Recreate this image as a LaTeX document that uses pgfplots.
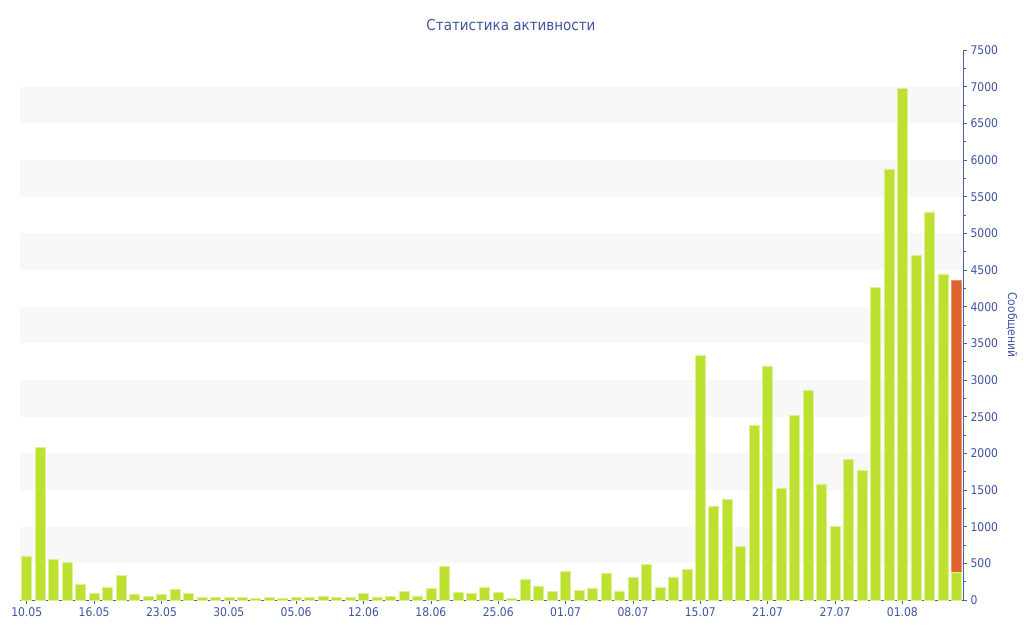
\documentclass[border=0pt]{standalone}
\usepackage{fontspec}
\setmainfont{DejaVu Sans Condensed}
\usepackage{pgfplots}
\usepackage{pgfplotstable}
\pgfplotsset{compat=1.18}
\definecolor{txtblue}{RGB}{64,84,160}
\definecolor{axblue}{RGB}{80,95,160}
\definecolor{bargreen}{RGB}{189,225,49}
\definecolor{baredge}{RGB}{222,240,150}
\definecolor{barorange}{RGB}{224,99,47}
\definecolor{band}{RGB}{248,248,248}
\pgfplotstableread{
x y
0 600
1 2077
2 555
3 509
4 218
5 86
6 177
7 332
8 82
9 45
10 77
11 146
12 91
13 36
14 36
15 36
16 40
17 27
18 31
19 27
20 31
21 40
22 55
23 40
24 36
25 86
26 41
27 45
28 114
29 55
30 159
31 459
32 109
33 95
34 177
35 105
36 27
37 282
38 191
39 114
40 395
41 136
42 164
43 364
44 123
45 305
46 482
47 177
48 314
49 420
50 3337
51 1282
52 1368
53 736
54 2378
55 3191
56 1523
57 2519
58 2864
59 1582
60 1005
61 1919
62 1764
63 4260
64 5879
65 6973
66 4698
67 5291
68 4448
69 378
}\greendata
\pgfplotstableread{
x y
69 4356
}\orangedata
\begin{document}
\begin{tikzpicture}
\useasboundingbox (0,0) rectangle (1024bp,640bp);
\begin{axis}[
  at={(20bp,40bp)}, anchor=south west,
  scale only axis, width=943bp, height=550bp,
  xmin=-0.5, xmax=69.5, ymin=0, ymax=7500,
  axis x line*=bottom, axis y line*=right,
  axis line style={draw=axblue, line width=0.8pt},
  every tick/.style={draw=axblue, line width=0.6pt},
  tick align=outside,
  major tick length=4bp, minor tick length=3bp,
  xtick={0,5,...,65},
  xticklabels={10.05,16.05,23.05,30.05,05.06,12.06,18.06,25.06,01.07,08.07,15.07,21.07,27.07,01.08},
  ytick={0,500,...,7500},
  minor y tick num=1,
  ticklabel style={font=\fontsize{12bp}{14bp}\selectfont, text=txtblue},
  /pgf/number format/assume math mode=true,
  /pgf/number format/1000 sep={},
  ybar, bar width=10bp, bar shift=0pt,
  clip=false,
]
\pgfplotsinvokeforeach{500,1500,...,6500}{
  \fill[band] (axis cs:-0.5,#1) rectangle (axis cs:69.5,#1+500);
}
\addplot[fill=barorange, draw=barorange!70!white, line width=0.6pt] table[x=x,y=y] {\orangedata};
\addplot[fill=bargreen, draw=baredge, line width=0.6pt] table[x=x,y=y] {\greendata};
\end{axis}
\node[text=txtblue, font=\fontsize{15bp}{18bp}\selectfont] at (511bp,615bp) {Статистика активности};
\node[text=txtblue, font=\fontsize{12bp}{14bp}\selectfont, rotate=-90] at (1012bp,315bp) {Сообщений};
\end{tikzpicture}
\end{document}
